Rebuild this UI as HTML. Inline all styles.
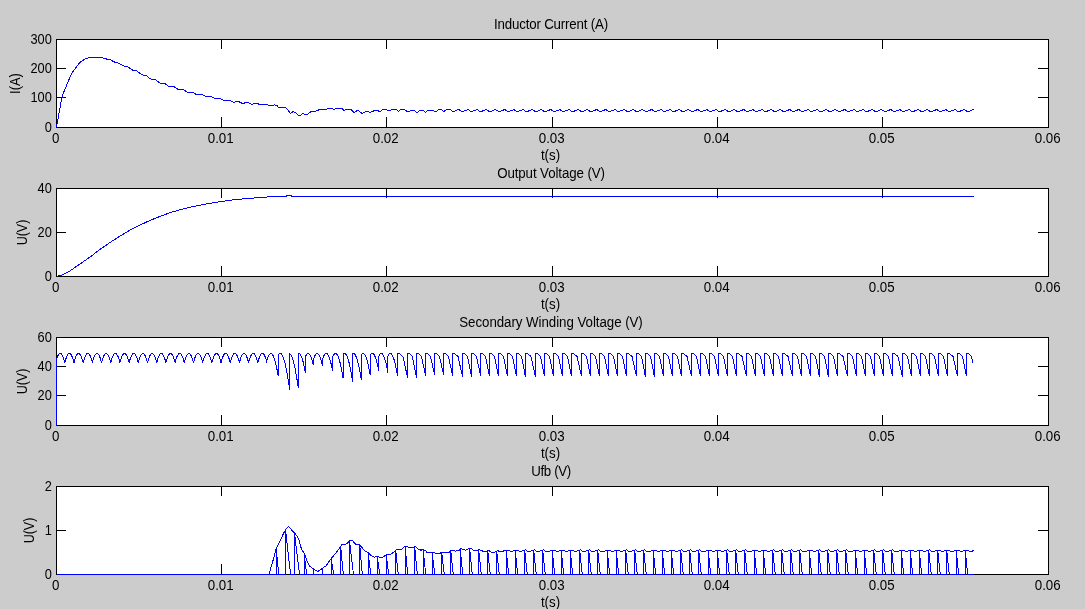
<!DOCTYPE html>
<html><head><meta charset="utf-8"><title>Figure</title>
<style>html,body{margin:0;padding:0;background:#ccc;overflow:hidden}svg{display:block}text{font-family:"Liberation Sans",Arial,Helvetica,sans-serif;font-size:13.33px;fill:#000}.k{fill:#000;shape-rendering:crispEdges}.c{fill:none;stroke:#00f;stroke-width:1;shape-rendering:crispEdges;stroke-linejoin:bevel}</style>
</head><body>
<svg width="1085" height="609" viewBox="0 0 1085 609">
<rect x="0" y="0" width="1085" height="609" fill="#ccc"/>
<g>
<rect x="56" y="39" width="993" height="89" fill="#fff"/>
<path class="k" d="M56 39h993v1h-993zM56 127h993v1h-993zM56 39h1v89h-1zM1048 39h1v89h-1zM221 40h1v9h-1zM221 117h1v10h-1zM386 40h1v9h-1zM386 117h1v10h-1zM552 40h1v9h-1zM552 117h1v10h-1zM717 40h1v9h-1zM717 117h1v10h-1zM882 40h1v9h-1zM882 117h1v10h-1zM57 68h9v1h-9zM1038 68h10v1h-10zM57 97h9v1h-9zM1038 97h10v1h-10z"/>
<text transform="translate(55.7 142.8) scale(1 1.055)" text-anchor="middle">0</text>
<text transform="translate(220.7 142.8) scale(1 1.055)" text-anchor="middle">0.01</text>
<text transform="translate(385.7 142.8) scale(1 1.055)" text-anchor="middle">0.02</text>
<text transform="translate(551.7 142.8) scale(1 1.055)" text-anchor="middle">0.03</text>
<text transform="translate(716.7 142.8) scale(1 1.055)" text-anchor="middle">0.04</text>
<text transform="translate(881.7 142.8) scale(1 1.055)" text-anchor="middle">0.05</text>
<text transform="translate(1047.7 142.8) scale(1 1.055)" text-anchor="middle">0.06</text>
<text transform="translate(51.8 43.9) scale(0.96 1.055)" text-anchor="end">300</text>
<text transform="translate(51.8 72.9) scale(0.96 1.055)" text-anchor="end">200</text>
<text transform="translate(51.8 101.9) scale(0.96 1.055)" text-anchor="end">100</text>
<text transform="translate(51.8 131.9) scale(0.96 1.055)" text-anchor="end">0</text>
<text transform="translate(550.5 160) scale(1 1.055)" text-anchor="middle">t(s)</text>
<text transform="translate(551 29.4) scale(1 1.055)" text-anchor="middle" style="letter-spacing:-0.18px">Inductor Current (A)</text>
<text transform="translate(20 83.5) rotate(-90) scale(0.97 1.055)" text-anchor="middle">I(A)</text>
</g>
<path class="c" d="M56.5 127.2 L61.6 99 L62.9 94.1 L71.6 73.3 L79.9 62.5 L84.5 59.3 L89.8 57.3 L95 57.44 L95.5 57.45 L96 57.45 L96.5 57.43 L97 57.39 L97.5 57.34 L98 57.28 L98.5 57.22 L99 57.17 L99.5 57.13 L100 57.16 L100.5 57.28 L101 57.42 L101.5 57.59 L102 57.77 L102.5 57.96 L103 58.16 L103.5 58.34 L104 58.51 L104.5 58.67 L105 58.79 L105.5 58.89 L106 58.96 L106.5 59.01 L107 59.05 L107.5 59.09 L108 59.13 L108.5 59.19 L109 59.27 L109.5 59.38 L110 59.58 L110.5 59.84 L111 60.12 L111.5 60.43 L112 60.73 L112.5 61.03 L113 61.32 L113.5 61.58 L114 61.81 L114.5 62 L115 62.15 L115.5 62.28 L116 62.38 L116.5 62.48 L117 62.59 L117.5 62.71 L118 62.86 L118.5 63.05 L119 63.27 L119.5 63.54 L120 63.84 L120.5 64.16 L121 64.49 L121.5 64.83 L122 65.15 L122.5 65.43 L123 65.68 L123.5 65.89 L124 66.05 L124.5 66.17 L125 66.26 L125.5 66.34 L126 66.42 L126.5 66.51 L127 66.65 L127.5 66.84 L128 67.06 L128.5 67.34 L129 67.66 L129.5 68.02 L130 68.4 L130.5 68.78 L131 69.14 L131.5 69.48 L132 69.77 L132.5 70.01 L133 70.2 L133.5 70.34 L134 70.44 L134.5 70.51 L135 70.58 L135.5 70.65 L136 70.76 L136.5 70.92 L137 71.16 L137.5 71.44 L138 71.79 L138.5 72.17 L139 72.59 L139.5 73.02 L140 73.44 L140.5 73.83 L141 74.18 L141.5 74.47 L142 74.7 L142.5 74.86 L143 74.98 L143.5 75.06 L144 75.12 L144.5 75.19 L145 75.28 L145.5 75.41 L146 75.6 L146.5 75.86 L147 76.18 L147.5 76.56 L148 76.98 L148.5 77.42 L149 77.86 L149.5 78.27 L150 78.64 L150.5 78.95 L151 79.19 L151.5 79.35 L152 79.46 L152.5 79.52 L153 79.54 L153.5 79.52 L154 79.53 L154.5 79.58 L155 79.69 L155.5 79.88 L156 80.15 L156.5 80.48 L157 80.86 L157.5 81.27 L158 81.69 L158.5 82.09 L159 82.44 L159.5 82.73 L160 82.94 L160.5 83.09 L161 83.16 L161.5 83.18 L162 83.17 L162.5 83.14 L163 83.13 L163.5 83.15 L164 83.23 L164.5 83.38 L165 83.6 L165.5 83.9 L166 84.25 L166.5 84.65 L167 85.05 L167.5 85.45 L168 85.81 L168.5 86.11 L169 86.34 L169.5 86.5 L170 86.59 L170.5 86.61 L171 86.6 L171.5 86.56 L172 86.53 L172.5 86.54 L173 86.57 L173.5 86.65 L174 86.8 L174.5 87.03 L175 87.32 L175.5 87.65 L176 88.01 L176.5 88.37 L177 88.7 L177.5 88.98 L178 89.2 L178.5 89.34 L179 89.41 L179.5 89.41 L180 89.36 L180.5 89.29 L181 89.21 L181.5 89.17 L182 89.18 L182.5 89.25 L183 89.39 L183.5 89.61 L184 89.9 L184.5 90.24 L185 90.61 L185.5 90.99 L186 91.35 L186.5 91.68 L187 91.94 L187.5 92.13 L188 92.25 L188.5 92.29 L189 92.28 L189.5 92.23 L190 92.17 L190.5 92.12 L191 92.11 L191.5 92.1 L192 92.17 L192.5 92.31 L193 92.52 L193.5 92.79 L194 93.1 L194.5 93.43 L195 93.75 L195.5 94.04 L196 94.27 L196.5 94.44 L197 94.53 L197.5 94.55 L198 94.51 L198.5 94.42 L199 94.31 L199.5 94.2 L200 94.12 L200.5 94.1 L201 94.13 L201.5 94.24 L202 94.43 L202.5 94.68 L203 94.98 L203.5 95.31 L204 95.64 L204.5 95.94 L205 96.2 L205.5 96.4 L206 96.52 L206.5 96.57 L207 96.55 L207.5 96.48 L208 96.37 L208.5 96.26 L209 96.17 L209.5 96.12 L210 96.14 L210.5 96.23 L211 96.39 L211.5 96.63 L212 96.92 L212.5 97.24 L213 97.58 L213.5 97.91 L214 98.19 L214.5 98.42 L215 98.58 L215.5 98.66 L216 98.67 L216.5 98.62 L217 98.54 L217.5 98.43 L218 98.34 L218.5 98.28 L219 98.27 L219.5 98.33 L220 98.45 L220.5 98.64 L221 98.89 L221.5 99.18 L222 99.5 L222.5 99.81 L223 100.09 L223.5 100.32 L224 100.49 L224.5 100.58 L225 100.6 L225.5 100.55 L226 100.45 L226.5 100.33 L227 100.21 L227.5 100.11 L228 100.06 L228.5 100.08 L229 100.16 L229.5 100.32 L230 100.55 L230.5 100.81 L231 101.09 L231.5 101.38 L232 101.66 L232.5 101.88 L233 102.05 L233.5 102.14 L234 102.16 L234.5 102.11 L235 102.01 L235.5 101.87 L236 101.72 L236.5 101.58 L237 101.49 L237.5 101.45 L238 101.48 L238.5 101.59 L239 101.77 L239.5 102.01 L240 102.28 L240.5 102.55 L241 102.81 L241.5 103.04 L242 103.21 L242.5 103.31 L243 103.34 L243.5 103.29 L244 103.18 L244.5 103.03 L245 102.86 L245.5 102.7 L246 102.56 L246.5 102.48 L247 102.47 L247.5 102.52 L248 102.66 L248.5 102.85 L249 103.1 L249.5 103.37 L250 103.63 L250.5 103.86 L251 104.05 L251.5 104.17 L252 104.21 L252.5 104.18 L253 104.09 L253.5 103.94 L254 103.77 L254.5 103.59 L255 103.43 L255.5 103.32 L256 103.26 L256.5 103.29 L257 103.38 L257.5 103.55 L258 103.76 L258.5 104.02 L259 104.28 L259.5 104.52 L260 104.73 L260.5 104.89 L261 104.97 L261.5 104.98 L262 104.92 L262.5 104.8 L263 104.64 L263.5 104.47 L264 104.31 L264.5 104.19 L265 104.12 L265.5 104.12 L266 104.2 L266.5 104.35 L267 104.56 L267.5 104.81 L268 105.08 L268.5 105.34 L269 105.57 L269.5 105.75 L270 105.86 L270.5 105.88 L271 105.83 L271.5 105.71 L272 105.55 L272.5 105.37 L273 105.18 L273.5 105.03 L274 104.92 L274.5 104.88 L275 104.91 L275.5 105.02 L276 105.19 L276.5 105.41 L277 105.66 L277.2 105.7 L278.9 108.2 L280.6 107.3 L285.5 107.3 L288 110.2 L290.5 113.5 L293 111.5 L295.5 112.8 L298.8 115.6 L300.5 115.3 L302.9 113.5 L304.6 114.5 L307.1 114.5 L310.4 112 L316.2 111.1 L319.5 109.5 L326.2 109.2 L328.7 108.3 L331.2 108.3 L333.6 109.5 L336.1 108.5 L341.9 108.5 L344.1 110.7 L346.1 109.3 L351.1 109.3 L354 112.6 L357.7 110.3 L362.3 113.6 L366 111.5 L367.6 111.5 L370.1 112.6 L375.1 110.3 L377.6 110.7 L380 111.5 L381.5 110.5 L383 109.5 L386.6 109.5 L387.4 110.5 L390.7 110.5 L391.2 109.5 L396.6 109.5 L397.4 110.5 L398.4 111.5 L399.5 110.5 L401 109.5 L404.7 109.5 L405.6 110.5 L407.3 111.5 L409.5 111.5 L410.2 110.5 L414.3 110.5 L415.4 111.5 L416.5 112.4 L417.6 112.4 L418.7 111.5 L419.8 110.5 L423.5 110.5 L424.3 111.5 L425.4 112.4 L426.5 111.5 L428 110.5 L433.5 110.5 L434.6 111.5 L436.4 111.5 L437.5 110.5 L439 109.5 L441.6 109.5 L442.3 110.5 L443.8 111.5 L445.3 110.5 L446.7 109.5 L450.4 109.5 L451.5 110.5 L452.6 111.5 L454.5 111.5 L456 110.5 L457.4 109.6 L458.56 109.4 L459.51 110 L460.91 111 L462.06 111.7 L464.21 111 L466.8 110 L467.75 109.4 L468.7 110 L470.1 111 L471.25 111.7 L473.4 111 L475.99 110 L476.94 109.4 L477.89 110 L479.29 111 L480.44 111.7 L482.59 111 L485.18 110 L486.13 109.4 L487.08 110 L488.48 111 L489.63 111.7 L491.78 111 L494.37 110 L495.32 109.4 L496.27 110 L497.67 111 L498.82 111.7 L500.97 111 L503.56 110 L504.51 109.4 L505.46 110 L506.86 111 L508.01 111.7 L510.16 111 L512.75 110 L513.7 109.4 L514.65 110 L516.05 111 L517.2 111.7 L519.35 111 L521.94 110 L522.89 109.4 L523.84 110 L525.24 111 L526.39 111.7 L528.54 111 L531.13 110 L532.08 109.4 L533.03 110 L534.43 111 L535.58 111.7 L537.73 111 L540.32 110 L541.27 109.4 L542.22 110 L543.62 111 L544.77 111.7 L546.92 111 L549.51 110 L550.46 109.4 L551.41 110 L552.81 111 L553.96 111.7 L556.11 111 L558.7 110 L559.65 109.4 L560.6 110 L562 111 L563.15 111.7 L565.3 111 L567.89 110 L568.84 109.4 L569.79 110 L571.19 111 L572.34 111.7 L574.49 111 L577.08 110 L578.03 109.4 L578.98 110 L580.38 111 L581.53 111.7 L583.68 111 L586.27 110 L587.22 109.4 L588.17 110 L589.57 111 L590.72 111.7 L592.87 111 L595.46 110 L596.41 109.4 L597.36 110 L598.76 111 L599.91 111.7 L602.06 111 L604.65 110 L605.6 109.4 L606.55 110 L607.95 111 L609.1 111.7 L611.25 111 L613.84 110 L614.79 109.4 L615.74 110 L617.14 111 L618.29 111.7 L620.44 111 L623.03 110 L623.98 109.4 L624.93 110 L626.33 111 L627.48 111.7 L629.63 111 L632.22 110 L633.17 109.4 L634.12 110 L635.52 111 L636.67 111.7 L638.82 111 L641.41 110 L642.36 109.4 L643.31 110 L644.71 111 L645.86 111.7 L648.01 111 L650.6 110 L651.55 109.4 L652.5 110 L653.9 111 L655.05 111.7 L657.2 111 L659.79 110 L660.74 109.4 L661.69 110 L663.09 111 L664.24 111.7 L666.39 111 L668.98 110 L669.93 109.4 L670.88 110 L672.28 111 L673.43 111.7 L675.58 111 L678.17 110 L679.12 109.4 L680.07 110 L681.47 111 L682.62 111.7 L684.77 111 L687.36 110 L688.31 109.4 L689.26 110 L690.66 111 L691.81 111.7 L693.96 111 L696.55 110 L697.5 109.4 L698.45 110 L699.85 111 L701 111.7 L703.15 111 L705.74 110 L706.69 109.4 L707.64 110 L709.04 111 L710.19 111.7 L712.34 111 L714.93 110 L715.88 109.4 L716.83 110 L718.23 111 L719.38 111.7 L721.53 111 L724.12 110 L725.07 109.4 L726.02 110 L727.42 111 L728.57 111.7 L730.72 111 L733.31 110 L734.26 109.4 L735.21 110 L736.61 111 L737.76 111.7 L739.91 111 L742.5 110 L743.45 109.4 L744.4 110 L745.8 111 L746.95 111.7 L749.1 111 L751.69 110 L752.64 109.4 L753.59 110 L754.99 111 L756.14 111.7 L758.29 111 L760.88 110 L761.83 109.4 L762.78 110 L764.18 111 L765.33 111.7 L767.48 111 L770.07 110 L771.02 109.4 L771.97 110 L773.37 111 L774.52 111.7 L776.67 111 L779.26 110 L780.21 109.4 L781.16 110 L782.56 111 L783.71 111.7 L785.86 111 L788.45 110 L789.4 109.4 L790.35 110 L791.75 111 L792.9 111.7 L795.05 111 L797.64 110 L798.59 109.4 L799.54 110 L800.94 111 L802.09 111.7 L804.24 111 L806.83 110 L807.78 109.4 L808.73 110 L810.13 111 L811.28 111.7 L813.43 111 L816.02 110 L816.97 109.4 L817.92 110 L819.32 111 L820.47 111.7 L822.62 111 L825.21 110 L826.16 109.4 L827.11 110 L828.51 111 L829.66 111.7 L831.81 111 L834.4 110 L835.35 109.4 L836.3 110 L837.7 111 L838.85 111.7 L841 111 L843.59 110 L844.54 109.4 L845.49 110 L846.89 111 L848.04 111.7 L850.19 111 L852.78 110 L853.73 109.4 L854.68 110 L856.08 111 L857.23 111.7 L859.38 111 L861.97 110 L862.92 109.4 L863.87 110 L865.27 111 L866.42 111.7 L868.57 111 L871.16 110 L872.11 109.4 L873.06 110 L874.46 111 L875.61 111.7 L877.76 111 L880.35 110 L881.3 109.4 L882.25 110 L883.65 111 L884.8 111.7 L886.95 111 L889.54 110 L890.49 109.4 L891.44 110 L892.84 111 L893.99 111.7 L896.14 111 L898.73 110 L899.68 109.4 L900.63 110 L902.03 111 L903.18 111.7 L905.33 111 L907.92 110 L908.87 109.4 L909.82 110 L911.22 111 L912.37 111.7 L914.52 111 L917.11 110 L918.06 109.4 L919.01 110 L920.41 111 L921.56 111.7 L923.71 111 L926.3 110 L927.25 109.4 L928.2 110 L929.6 111 L930.75 111.7 L932.9 111 L935.49 110 L936.44 109.4 L937.39 110 L938.79 111 L939.94 111.7 L942.09 111 L944.68 110 L945.63 109.4 L946.58 110 L947.98 111 L949.13 111.7 L951.28 111 L953.87 110 L954.82 109.4 L955.77 110 L957.17 111 L958.32 111.7 L960.47 111 L963.06 110 L964.01 109.4 L964.96 110 L966.36 111 L967.51 111.7 L969.66 111 L972.25 110 L973.2 109.4 L974 109.5"/>
<g>
<rect x="56" y="188" width="993" height="89" fill="#fff"/>
<path class="k" d="M56 188h993v1h-993zM56 276h993v1h-993zM56 188h1v89h-1zM1048 188h1v89h-1zM221 189h1v9h-1zM221 266h1v10h-1zM386 189h1v9h-1zM386 266h1v10h-1zM552 189h1v9h-1zM552 266h1v10h-1zM717 189h1v9h-1zM717 266h1v10h-1zM882 189h1v9h-1zM882 266h1v10h-1zM57 232h9v1h-9zM1038 232h10v1h-10z"/>
<text transform="translate(55.7 291.8) scale(1 1.055)" text-anchor="middle">0</text>
<text transform="translate(220.7 291.8) scale(1 1.055)" text-anchor="middle">0.01</text>
<text transform="translate(385.7 291.8) scale(1 1.055)" text-anchor="middle">0.02</text>
<text transform="translate(551.7 291.8) scale(1 1.055)" text-anchor="middle">0.03</text>
<text transform="translate(716.7 291.8) scale(1 1.055)" text-anchor="middle">0.04</text>
<text transform="translate(881.7 291.8) scale(1 1.055)" text-anchor="middle">0.05</text>
<text transform="translate(1047.7 291.8) scale(1 1.055)" text-anchor="middle">0.06</text>
<text transform="translate(51.8 192.9) scale(0.96 1.055)" text-anchor="end">40</text>
<text transform="translate(51.8 236.9) scale(0.96 1.055)" text-anchor="end">20</text>
<text transform="translate(51.8 280.9) scale(0.96 1.055)" text-anchor="end">0</text>
<text transform="translate(550.5 309) scale(1 1.055)" text-anchor="middle">t(s)</text>
<text transform="translate(551 178.4) scale(1 1.055)" text-anchor="middle" style="letter-spacing:-0.1px">Output Voltage (V)</text>
<text transform="translate(27 232.5) rotate(-90) scale(0.94 1.055)" text-anchor="middle">U(V)</text>
</g>
<path class="c" d="M56.5 276.2 L61.2 275.4 L69.9 270.9 L79.9 264.1 L89.8 257.2 L99.8 249.6 L109.7 242.7 L119.7 236.3 L129.6 230.3 L139.6 225.3 L149.5 220.6 L159.5 216.6 L169.4 212.9 L179.4 209.9 L189.4 207.4 L199.3 205.4 L209.3 203.4 L221.7 201.4 L234.1 199.8 L242.5 199 L254 198 L267 197 L280 196.55 L286 196.5 L286.5 195.5 L291 195.5 L291.5 196.5 L974 196.5"/>
<g>
<rect x="56" y="337" width="993" height="89" fill="#fff"/>
<path class="k" d="M56 337h993v1h-993zM56 425h993v1h-993zM56 337h1v89h-1zM1048 337h1v89h-1zM221 338h1v9h-1zM221 415h1v10h-1zM386 338h1v9h-1zM386 415h1v10h-1zM552 338h1v9h-1zM552 415h1v10h-1zM717 338h1v9h-1zM717 415h1v10h-1zM882 338h1v9h-1zM882 415h1v10h-1zM57 366h9v1h-9zM1038 366h10v1h-10zM57 395h9v1h-9zM1038 395h10v1h-10z"/>
<text transform="translate(55.7 440.8) scale(1 1.055)" text-anchor="middle">0</text>
<text transform="translate(220.7 440.8) scale(1 1.055)" text-anchor="middle">0.01</text>
<text transform="translate(385.7 440.8) scale(1 1.055)" text-anchor="middle">0.02</text>
<text transform="translate(551.7 440.8) scale(1 1.055)" text-anchor="middle">0.03</text>
<text transform="translate(716.7 440.8) scale(1 1.055)" text-anchor="middle">0.04</text>
<text transform="translate(881.7 440.8) scale(1 1.055)" text-anchor="middle">0.05</text>
<text transform="translate(1047.7 440.8) scale(1 1.055)" text-anchor="middle">0.06</text>
<text transform="translate(51.8 341.9) scale(0.96 1.055)" text-anchor="end">60</text>
<text transform="translate(51.8 370.9) scale(0.96 1.055)" text-anchor="end">40</text>
<text transform="translate(51.8 399.9) scale(0.96 1.055)" text-anchor="end">20</text>
<text transform="translate(51.8 429.9) scale(0.96 1.055)" text-anchor="end">0</text>
<text transform="translate(550.5 458) scale(1 1.055)" text-anchor="middle">t(s)</text>
<text transform="translate(551 327.4) scale(1 1.055)" text-anchor="middle" style="letter-spacing:-0.055px">Secondary Winding Voltage (V)</text>
<text transform="translate(27 381.5) rotate(-90) scale(0.94 1.055)" text-anchor="middle">U(V)</text>
</g>
<path class="c" d="M56.5 425.5 L56.5 358.5 L57.14 357.54 L57.91 355.74 L58.67 354.44 L59.44 353.66 L60.2 353.4 L60.97 353.66 L61.74 354.44 L62.5 355.74 L63.27 357.54 L64.03 359.83 L64.8 362.6 L64.8 362.6 L65.57 359.83 L66.33 357.54 L67.1 355.74 L67.86 354.44 L68.63 353.66 L69.39 353.4 L70.16 353.66 L70.93 354.44 L71.69 355.74 L72.46 357.54 L73.22 359.83 L73.99 362.6 L73.99 362.6 L74.76 359.83 L75.52 357.54 L76.29 355.74 L77.05 354.44 L77.82 353.66 L78.58 353.4 L79.35 353.66 L80.12 354.44 L80.88 355.74 L81.65 357.54 L82.41 359.83 L83.18 362.6 L83.18 362.6 L83.95 359.83 L84.71 357.54 L85.48 355.74 L86.24 354.44 L87.01 353.66 L87.78 353.4 L88.54 353.66 L89.31 354.44 L90.07 355.74 L90.84 357.54 L91.6 359.83 L92.37 362.6 L92.37 362.6 L93.14 359.83 L93.9 357.54 L94.67 355.74 L95.43 354.44 L96.2 353.66 L96.97 353.4 L97.73 353.66 L98.5 354.44 L99.26 355.74 L100.03 357.54 L100.79 359.83 L101.56 362.6 L101.56 362.6 L102.33 359.83 L103.09 357.54 L103.86 355.74 L104.62 354.44 L105.39 353.66 L106.16 353.4 L106.92 353.66 L107.69 354.44 L108.45 355.74 L109.22 357.54 L109.98 359.83 L110.75 362.6 L110.75 362.6 L111.52 359.83 L112.28 357.54 L113.05 355.74 L113.81 354.44 L114.58 353.66 L115.34 353.4 L116.11 353.66 L116.88 354.44 L117.64 355.74 L118.41 357.54 L119.17 359.83 L119.94 362.6 L119.94 362.6 L120.71 359.83 L121.47 357.54 L122.24 355.74 L123 354.44 L123.77 353.66 L124.53 353.4 L125.3 353.66 L126.07 354.44 L126.83 355.74 L127.6 357.54 L128.36 359.83 L129.13 362.6 L129.13 362.6 L129.9 359.83 L130.66 357.54 L131.43 355.74 L132.19 354.44 L132.96 353.66 L133.72 353.4 L134.49 353.66 L135.26 354.44 L136.02 355.74 L136.79 357.54 L137.55 359.83 L138.32 362.6 L138.32 362.6 L139.09 359.83 L139.85 357.54 L140.62 355.74 L141.38 354.44 L142.15 353.66 L142.91 353.4 L143.68 353.66 L144.45 354.44 L145.21 355.74 L145.98 357.54 L146.74 359.83 L147.51 362.6 L147.51 362.6 L148.28 359.83 L149.04 357.54 L149.81 355.74 L150.57 354.44 L151.34 353.66 L152.1 353.4 L152.87 353.66 L153.64 354.44 L154.4 355.74 L155.17 357.54 L155.93 359.83 L156.7 362.6 L156.7 362.6 L157.47 359.83 L158.23 357.54 L159 355.74 L159.76 354.44 L160.53 353.66 L161.29 353.4 L162.06 353.66 L162.83 354.44 L163.59 355.74 L164.36 357.54 L165.12 359.83 L165.89 362.6 L165.89 362.6 L166.66 359.83 L167.42 357.54 L168.19 355.74 L168.95 354.44 L169.72 353.66 L170.48 353.4 L171.25 353.66 L172.02 354.44 L172.78 355.74 L173.55 357.54 L174.31 359.83 L175.08 362.6 L175.08 362.6 L175.85 359.83 L176.61 357.54 L177.38 355.74 L178.14 354.44 L178.91 353.66 L179.67 353.4 L180.44 353.66 L181.21 354.44 L181.97 355.74 L182.74 357.54 L183.5 359.83 L184.27 362.6 L184.27 362.6 L185.04 359.83 L185.8 357.54 L186.57 355.74 L187.33 354.44 L188.1 353.66 L188.86 353.4 L189.63 353.66 L190.4 354.44 L191.16 355.74 L191.93 357.54 L192.69 359.83 L193.46 362.6 L193.46 362.6 L194.23 359.83 L194.99 357.54 L195.76 355.74 L196.52 354.44 L197.29 353.66 L198.05 353.4 L198.82 353.66 L199.59 354.44 L200.35 355.74 L201.12 357.54 L201.88 359.83 L202.65 362.6 L202.65 362.6 L203.42 359.83 L204.18 357.54 L204.95 355.74 L205.71 354.44 L206.48 353.66 L207.24 353.4 L208.01 353.66 L208.78 354.44 L209.54 355.74 L210.31 357.54 L211.07 359.83 L211.84 362.6 L211.84 362.6 L212.61 359.83 L213.37 357.54 L214.14 355.74 L214.9 354.44 L215.67 353.66 L216.43 353.4 L217.2 353.66 L217.97 354.44 L218.73 355.74 L219.5 357.54 L220.26 359.83 L221.03 362.6 L221.03 362.6 L221.8 359.83 L222.56 357.54 L223.33 355.74 L224.09 354.44 L224.86 353.66 L225.62 353.4 L226.39 353.66 L227.16 354.44 L227.92 355.74 L228.69 357.54 L229.45 359.83 L230.22 362.6 L230.22 362.6 L230.99 359.83 L231.75 357.54 L232.52 355.74 L233.28 354.44 L234.05 353.66 L234.81 353.4 L235.58 353.66 L236.35 354.44 L237.11 355.74 L237.88 357.54 L238.64 359.83 L239.41 362.6 L239.41 362.6 L240.18 359.83 L240.94 357.54 L241.71 355.74 L242.47 354.44 L243.24 353.66 L244 353.4 L244.77 353.66 L245.54 354.44 L246.3 355.74 L247.07 357.54 L247.83 359.83 L248.6 362.6 L248.6 362.6 L249.37 359.83 L250.13 357.54 L250.9 355.74 L251.66 354.44 L252.43 353.66 L253.19 353.4 L253.96 353.66 L254.73 354.44 L255.49 355.74 L256.26 357.54 L257.02 359.83 L257.79 362.6 L257.79 362.6 L258.56 359.83 L259.32 357.54 L260.09 355.74 L260.85 354.44 L261.62 353.66 L262.38 353.4 L263.15 353.66 L263.92 354.44 L264.68 355.74 L265.45 357.54 L266.21 359.83 L266.98 362.6 L267 360.2 L267.32 359.09 L267.65 358.08 L267.99 357.17 L268.33 356.35 L268.66 355.63 L269 355.01 L269.34 354.49 L269.68 354.07 L270.01 353.75 L270.35 353.53 L270.69 353.42 L271.02 353.41 L271.36 353.5 L271.7 353.69 L272.03 353.98 L272.37 354.38 L272.71 354.88 L273.05 355.47 L273.38 356.17 L273.72 356.96 L274.06 357.85 L274.39 358.84 L274.73 359.92 L275.07 361.09 L275.4 362.36 L275.74 363.71 L276.08 365.15 L276.42 366.68 L276.75 368.29 L277.09 369.98 L277.43 371.74 L277.76 373.59 L278.1 375.5 L278.12 355.47 L278.44 354.87 L278.78 354.37 L279.12 353.97 L279.46 353.68 L279.81 353.49 L280.15 353.4 L280.49 353.43 L280.83 353.55 L281.17 353.78 L281.51 354.12 L281.85 354.56 L282.19 355.1 L282.54 355.74 L282.88 356.49 L283.22 357.33 L283.56 358.28 L283.9 359.32 L284.24 360.46 L284.58 361.69 L284.92 363.01 L285.26 364.43 L285.61 365.93 L285.95 367.52 L286.29 369.19 L286.63 370.95 L286.97 372.78 L287.31 374.69 L287.65 376.67 L287.99 378.72 L288.34 380.83 L288.68 383.01 L289.02 385.25 L289.36 387.55 L289.7 389.9 L289.72 353.54 L290.04 353.77 L290.39 354.1 L290.73 354.54 L291.08 355.08 L291.42 355.73 L291.76 356.48 L292.11 357.33 L292.45 358.29 L292.8 359.34 L293.14 360.49 L293.48 361.73 L293.83 363.07 L294.17 364.5 L294.52 366.02 L294.86 367.63 L295.2 369.32 L295.55 371.1 L295.89 372.95 L296.24 374.88 L296.58 376.89 L296.92 378.96 L297.27 381.1 L297.61 383.31 L297.96 385.58 L298.3 387.9 L298.32 353.48 L298.64 353.4 L298.98 353.43 L299.31 353.55 L299.65 353.78 L299.99 354.11 L300.33 354.55 L300.67 355.08 L301 355.72 L301.34 356.45 L301.68 357.29 L302.02 358.22 L302.36 359.24 L302.7 360.37 L303.03 361.58 L303.37 362.88 L303.71 364.28 L304.05 365.76 L304.39 367.32 L304.72 368.97 L305.06 370.7 L305.4 372.5 L305.42 356.71 L305.74 355.94 L306.08 355.27 L306.42 354.7 L306.76 354.24 L307.1 353.87 L307.43 353.61 L307.77 353.45 L308.11 353.4 L308.45 353.45 L308.79 353.6 L309.13 353.86 L309.47 354.22 L309.81 354.68 L310.15 355.24 L310.49 355.91 L310.83 356.67 L311.17 357.53 L311.5 358.49 L311.84 359.55 L312.18 360.7 L312.52 361.94 L312.86 363.28 L313.2 364.7 L313.22 360.28 L313.54 359.15 L313.88 358.13 L314.22 357.2 L314.56 356.37 L314.9 355.64 L315.24 355.01 L315.59 354.49 L315.93 354.06 L316.27 353.74 L316.61 353.53 L316.95 353.42 L317.29 353.41 L317.63 353.51 L317.97 353.71 L318.31 354.02 L318.65 354.43 L318.99 354.94 L319.33 355.56 L319.67 356.27 L320.01 357.09 L320.36 358.01 L320.7 359.02 L321.04 360.13 L321.38 361.34 L321.72 362.64 L322.06 364.02 L322.4 365.5 L322.42 359.82 L322.74 358.75 L323.07 357.77 L323.41 356.89 L323.75 356.11 L324.08 355.42 L324.42 354.83 L324.76 354.34 L325.09 353.96 L325.43 353.67 L325.77 353.49 L326.1 353.4 L326.44 353.42 L326.78 353.55 L327.11 353.77 L327.45 354.1 L327.79 354.52 L328.12 355.05 L328.46 355.68 L328.8 356.4 L329.13 357.23 L329.47 358.15 L329.81 359.16 L330.14 360.27 L330.48 361.47 L330.82 362.76 L331.15 364.14 L331.49 365.61 L331.83 367.16 L332.16 368.79 L332.5 370.5 L332.52 357.34 L332.84 356.5 L333.18 355.75 L333.53 355.1 L333.87 354.56 L334.21 354.12 L334.55 353.78 L334.89 353.55 L335.24 353.43 L335.58 353.4 L335.92 353.49 L336.26 353.68 L336.6 353.97 L336.95 354.37 L337.29 354.88 L337.63 355.48 L337.97 356.19 L338.31 357 L338.65 357.91 L339 358.92 L339.34 360.02 L339.68 361.22 L340.02 362.52 L340.36 363.9 L340.71 365.38 L341.05 366.94 L341.39 368.59 L341.73 370.32 L342.07 372.12 L342.42 374.01 L342.76 375.97 L343.1 378 L343.12 354.23 L343.44 353.87 L343.79 353.61 L344.13 353.45 L344.47 353.4 L344.81 353.46 L345.16 353.62 L345.5 353.89 L345.84 354.26 L346.19 354.74 L346.53 355.32 L346.87 356 L347.21 356.79 L347.56 357.67 L347.9 358.66 L348.24 359.74 L348.59 360.92 L348.93 362.2 L349.27 363.57 L349.61 365.02 L349.96 366.57 L350.3 368.2 L350.64 369.92 L350.99 371.71 L351.33 373.58 L351.67 375.53 L352.01 377.55 L352.36 379.64 L352.7 381.8 L352.72 353.63 L353.04 353.46 L353.39 353.4 L353.73 353.45 L354.08 353.6 L354.42 353.86 L354.76 354.22 L355.11 354.69 L355.45 355.27 L355.8 355.95 L356.14 356.73 L356.48 357.61 L356.83 358.59 L357.17 359.67 L357.52 360.85 L357.86 362.13 L358.2 363.49 L358.55 364.95 L358.89 366.5 L359.24 368.13 L359.58 369.85 L359.92 371.65 L360.27 373.53 L360.61 375.48 L360.96 377.5 L361.3 379.6 L361.32 354.78 L361.64 354.3 L361.98 353.92 L362.32 353.64 L362.65 353.47 L362.99 353.4 L363.33 353.43 L363.67 353.57 L364.01 353.81 L364.35 354.15 L364.68 354.6 L365.02 355.14 L365.36 355.79 L365.7 356.53 L366.04 357.38 L366.38 358.32 L366.72 359.36 L367.05 360.49 L367.39 361.71 L367.73 363.03 L368.07 364.43 L368.41 365.92 L368.75 367.5 L369.08 369.16 L369.42 370.9 L369.76 372.71 L370.1 374.6 L370.12 355.67 L370.43 355.05 L370.77 354.53 L371.1 354.1 L371.44 353.78 L371.77 353.55 L372.11 353.43 L372.44 353.4 L372.78 353.48 L373.11 353.66 L373.45 353.94 L373.78 354.32 L374.12 354.79 L374.45 355.37 L374.78 356.05 L375.12 356.82 L375.45 357.69 L375.79 358.65 L376.12 359.71 L376.46 360.85 L376.79 362.09 L377.13 363.42 L377.46 364.83 L377.8 366.33 L378.13 367.91 L378.47 369.56 L378.8 371.3 L378.82 356.04 L379.14 355.36 L379.47 354.78 L379.81 354.3 L380.15 353.93 L380.49 353.65 L380.82 353.47 L381.16 353.4 L381.5 353.43 L381.83 353.56 L382.17 353.8 L382.51 354.13 L382.84 354.57 L383.18 355.11 L383.52 355.75 L383.86 356.48 L384.19 357.32 L384.53 358.25 L384.87 359.27 L385.2 360.39 L385.54 361.61 L385.88 362.91 L386.21 364.3 L386.55 365.78 L386.89 367.34 L387.23 368.98 L387.56 370.7 L387.9 372.5 L387.92 355.97 L388.24 355.29 L388.59 354.71 L388.93 354.24 L389.27 353.87 L389.61 353.61 L389.96 353.45 L390.3 353.4 L390.64 353.45 L390.99 353.61 L391.33 353.88 L391.67 354.25 L392.01 354.73 L392.36 355.31 L392.7 355.99 L393.04 356.77 L393.39 357.66 L393.73 358.64 L394.07 359.72 L394.41 360.9 L394.76 362.18 L395.1 363.54 L395.44 365 L395.79 366.54 L396.13 368.17 L396.47 369.89 L396.81 371.68 L397.16 373.55 L397.5 375.5 L397.5 353.4 L399.4 353.4 L403 356.65 L405.7 369.06 L407.5 377.5 L407.5 353.4 L409.21 353.4 L412.45 356.65 L414.88 369.06 L416.5 377.5 L416.5 353.4 L418.21 353.4 L421.45 356.38 L423.88 367.76 L425.5 375.5 L425.5 353.4 L427.21 353.4 L430.45 356.26 L432.88 367.18 L434.5 374.6 L434.5 353.4 L436.21 353.4 L439.45 356.26 L441.88 367.18 L443.5 374.6 L443.5 353.4 L445.21 353.4 L448.45 356.38 L450.88 367.76 L452.5 375.5 L452.5 353.4 L454.4 353.4 L458 356.53 L460.7 368.48 L462.5 376.6 L462.5 353.4 L464.21 353.4 L467.45 356.53 L469.88 368.48 L471.5 376.6 L471.5 353.4 L473.21 353.4 L476.45 356.38 L478.88 367.76 L480.5 375.5 L480.5 353.4 L482.21 353.4 L485.45 356.5 L487.88 368.35 L489.5 376.4 L489.5 353.4 L491.21 353.4 L494.45 356.5 L496.88 368.35 L498.5 376.4 L498.5 353.4 L500.21 353.4 L503.45 356.5 L505.88 368.35 L507.5 376.4 L507.5 353.4 L509.21 353.4 L512.45 356.5 L514.88 368.35 L516.5 376.4 L516.5 353.4 L518.21 353.4 L521.45 356.59 L523.88 368.74 L525.5 377 L525.5 353.4 L527.4 353.4 L531 356.59 L533.7 368.74 L535.5 377 L535.5 353.4 L537.21 353.4 L540.45 356.5 L542.88 368.35 L544.5 376.4 L544.5 353.4 L546.21 353.4 L549.45 356.5 L551.88 368.35 L553.5 376.4 L553.5 353.4 L555.21 353.4 L558.45 356.5 L560.88 368.35 L562.5 376.4 L562.5 353.4 L564.21 353.4 L567.45 356.5 L569.88 368.35 L571.5 376.4 L571.5 353.4 L573.4 353.4 L577 356.5 L579.7 368.35 L581.5 376.4 L581.5 353.4 L583.21 353.4 L586.45 356.5 L588.88 368.35 L590.5 376.4 L590.5 353.4 L592.21 353.4 L595.45 356.5 L597.88 368.35 L599.5 376.4 L599.5 353.4 L601.21 353.4 L604.45 356.5 L606.88 368.35 L608.5 376.4 L608.5 353.4 L610.21 353.4 L613.45 356.5 L615.88 368.35 L617.5 376.4 L617.5 353.4 L619.21 353.4 L622.45 356.5 L624.88 368.35 L626.5 376.4 L626.5 353.4 L628.4 353.4 L632 356.5 L634.7 368.35 L636.5 376.4 L636.5 353.4 L638.21 353.4 L641.45 356.59 L643.88 368.74 L645.5 377 L645.5 353.4 L647.21 353.4 L650.45 356.59 L652.88 368.74 L654.5 377 L654.5 353.4 L656.21 353.4 L659.45 356.5 L661.88 368.35 L663.5 376.4 L663.5 353.4 L665.21 353.4 L668.45 356.5 L670.88 368.35 L672.5 376.4 L672.5 353.4 L674.21 353.4 L677.45 356.5 L679.88 368.35 L681.5 376.4 L681.5 353.4 L683.4 353.4 L687 356.5 L689.7 368.35 L691.5 376.4 L691.5 353.4 L693.21 353.4 L696.45 356.5 L698.88 368.35 L700.5 376.4 L700.5 353.4 L702.21 353.4 L705.45 356.5 L707.88 368.35 L709.5 376.4 L709.5 353.4 L711.21 353.4 L714.45 356.5 L716.88 368.35 L718.5 376.4 L718.5 353.4 L720.21 353.4 L723.45 356.5 L725.88 368.35 L727.5 376.4 L727.5 353.4 L729.21 353.4 L732.45 356.5 L734.88 368.35 L736.5 376.4 L736.5 353.4 L738.4 353.4 L742 356.5 L744.7 368.35 L746.5 376.4 L746.5 353.4 L748.21 353.4 L751.45 356.5 L753.88 368.35 L755.5 376.4 L755.5 353.4 L757.21 353.4 L760.45 356.5 L762.88 368.35 L764.5 376.4 L764.5 353.4 L766.21 353.4 L769.45 356.5 L771.88 368.35 L773.5 376.4 L773.5 353.4 L775.21 353.4 L778.45 356.5 L780.88 368.35 L782.5 376.4 L782.5 353.4 L784.4 353.4 L788 356.5 L790.7 368.35 L792.5 376.4 L792.5 353.4 L794.21 353.4 L797.45 356.5 L799.88 368.35 L801.5 376.4 L801.5 353.4 L803.21 353.4 L806.45 356.5 L808.88 368.35 L810.5 376.4 L810.5 353.4 L812.21 353.4 L815.45 356.59 L817.88 368.74 L819.5 377 L819.5 353.4 L821.21 353.4 L824.45 356.59 L826.88 368.74 L828.5 377 L828.5 353.4 L830.21 353.4 L833.45 356.5 L835.88 368.35 L837.5 376.4 L837.5 353.4 L839.4 353.4 L843 356.5 L845.7 368.35 L847.5 376.4 L847.5 353.4 L849.21 353.4 L852.45 356.5 L854.88 368.35 L856.5 376.4 L856.5 353.4 L858.21 353.4 L861.45 356.5 L863.88 368.35 L865.5 376.4 L865.5 353.4 L867.21 353.4 L870.45 356.5 L872.88 368.35 L874.5 376.4 L874.5 353.4 L876.21 353.4 L879.45 356.5 L881.88 368.35 L883.5 376.4 L883.5 353.4 L885.21 353.4 L888.45 356.5 L890.88 368.35 L892.5 376.4 L892.5 353.4 L894.4 353.4 L898 356.59 L900.7 368.74 L902.5 377 L902.5 353.4 L904.21 353.4 L907.45 356.5 L909.88 368.35 L911.5 376.4 L911.5 353.4 L913.21 353.4 L916.45 356.5 L918.88 368.35 L920.5 376.4 L920.5 353.4 L922.21 353.4 L925.45 356.5 L927.88 368.35 L929.5 376.4 L929.5 353.4 L931.21 353.4 L934.45 356.5 L936.88 368.35 L938.5 376.4 L938.5 353.4 L940.21 353.4 L943.45 356.5 L945.88 368.35 L947.5 376.4 L947.5 353.4 L949.4 353.4 L953 356.5 L955.7 368.35 L957.5 376.4 L957.5 353.4 L959.21 353.4 L962.45 356.5 L964.88 368.35 L966.5 376.4 L966.5 353.4 L968.25 353.4 L971.55 356.5 L972.9 363"/>
<g>
<rect x="56" y="486" width="993" height="89" fill="#fff"/>
<path class="k" d="M56 486h993v1h-993zM56 574h993v1h-993zM56 486h1v89h-1zM1048 486h1v89h-1zM221 487h1v9h-1zM221 564h1v10h-1zM386 487h1v9h-1zM386 564h1v10h-1zM552 487h1v9h-1zM552 564h1v10h-1zM717 487h1v9h-1zM717 564h1v10h-1zM882 487h1v9h-1zM882 564h1v10h-1zM57 530h9v1h-9zM1038 530h10v1h-10z"/>
<text transform="translate(55.7 589.8) scale(1 1.055)" text-anchor="middle">0</text>
<text transform="translate(220.7 589.8) scale(1 1.055)" text-anchor="middle">0.01</text>
<text transform="translate(385.7 589.8) scale(1 1.055)" text-anchor="middle">0.02</text>
<text transform="translate(551.7 589.8) scale(1 1.055)" text-anchor="middle">0.03</text>
<text transform="translate(716.7 589.8) scale(1 1.055)" text-anchor="middle">0.04</text>
<text transform="translate(881.7 589.8) scale(1 1.055)" text-anchor="middle">0.05</text>
<text transform="translate(1047.7 589.8) scale(1 1.055)" text-anchor="middle">0.06</text>
<text transform="translate(51.8 490.9) scale(0.96 1.055)" text-anchor="end">2</text>
<text transform="translate(51.8 534.9) scale(0.96 1.055)" text-anchor="end">1</text>
<text transform="translate(51.8 578.9) scale(0.96 1.055)" text-anchor="end">0</text>
<text transform="translate(550.5 607) scale(1 1.055)" text-anchor="middle">t(s)</text>
<text transform="translate(551 476.4) scale(1 1.055)" text-anchor="middle" style="letter-spacing:-0.37px">Ufb (V)</text>
<text transform="translate(34 530.5) rotate(-90) scale(0.94 1.055)" text-anchor="middle">U(V)</text>
</g>
<path class="c" d="M56.5 574.5 L269.1 574.5 L270.5 568.6 L273.4 559.3 L276.4 548.1 L280.4 540.1 L284.1 532.2 L286.5 528.4 L288.5 526.5 L291.1 529.4 L294.4 533.1 L296.3 535 L299.1 540.1 L301.4 549 L304.7 554.1 L307 561.2 L309.4 565.8 L312.2 568.2 L315.5 570.5 L317.8 571.4 L320.1 570 L322.5 568.2 L326.2 565.8 L328.5 562.1 L331.4 558.4 L336 552.7 L339 549 L340 546.8 L342.2 544.5 L345.5 544.5 L347.4 543.1 L349.2 541.3 L350.3 540.4 L352.5 540.4 L354 542.4 L355.9 544.5 L359.5 544.5 L361.4 546.8 L363.6 549.7 L365.8 551.4 L368.4 552.7 L371 555.3 L372.8 556.5 L374.7 557.2 L376.1 556.5 L378.3 556.5 L379.8 557.2 L382.4 557.2 L384.2 556.4 L386.5 554.5 L390.5 554.5 L392.7 553 L394.9 550.9 L396.4 549.5 L401.2 549.5 L402.7 548.3 L404.5 546.5 L407.5 546.5 L408.6 547.5 L413.7 547.5 L414.5 546.5 L415.2 546.5 L416.7 547.5 L418.2 549.5 L420 549.5 L421 550.5 L421.9 549.6 L423.3 549.6 L424 550.5 L425.6 550.5 L427 552.4 L434.7 552.4 L435.2 553.5 L440 553.5 L440.5 552.4 L449.1 552.4 L450.2 550.5 L454.7 550.5 L455.4 551.6 L456.2 550.5 L459.1 550.5 L460.2 548.4 L461.7 548.4 L462.5 549.4 L464.3 549.4 L465.4 550.5 L466.5 549.4 L467.9 549.4 L468.4 548.4 L471.6 548.4 L472.7 549.5 L473.5 550.5 L478.3 550.5 L478.6 549.6 L479.8 549.6 L480.5 550.5 L482 550.5 L482.4 551.5 L487.1 551.5 L487.5 550.5 L489 550.5 L489.4 551.5 L490.8 551.5 L491.2 552.4 L494.9 552.4 L495.3 551.5 L496.7 551.5 L497.1 550.5 L498.2 550.5 L498.6 551.5 L503.5 551.5 L503.9 550.5 L509.9 550.5 L510.3 551.5 L512.8 551.5 L513.2 550.5 L518.9 550.5 L519.3 551.5 L521.8 551.5 L522.2 550.5 L524.9 550.5 L525.1 549.5 L525.9 549.5 L526.1 550.5 L526.9 550.5 L527.3 551.5 L530.8 551.5 L531.2 550.5 L533.9 550.5 L534.1 549.5 L534.9 549.5 L535.1 550.5 L535.9 550.5 L536.3 551.5 L539.8 551.5 L540.2 550.5 L542.9 550.5 L543.1 549.5 L543.9 549.5 L544.1 550.5 L544.9 550.5 L545.3 551.5 L549.8 551.5 L550.2 550.5 L555.9 550.5 L556.3 551.5 L558.8 551.5 L559.2 550.5 L564.9 550.5 L565.3 551.5 L567.8 551.5 L568.2 550.5 L573.9 550.5 L574.3 551.5 L576.8 551.5 L577.2 550.5 L579.9 550.5 L580.1 549.5 L580.9 549.5 L581.1 550.5 L581.9 550.5 L582.3 551.5 L585.8 551.5 L586.2 550.5 L588.9 550.5 L589.1 549.5 L589.9 549.5 L590.1 550.5 L590.9 550.5 L591.3 551.5 L594.8 551.5 L595.2 550.5 L597.9 550.5 L598.1 549.5 L598.9 549.5 L599.1 550.5 L599.9 550.5 L600.3 551.5 L604.8 551.5 L605.2 550.5 L610.9 550.5 L611.3 551.5 L613.8 551.5 L614.2 550.5 L619.9 550.5 L620.3 551.5 L622.8 551.5 L623.2 550.5 L625.9 550.5 L626.1 549.5 L626.9 549.5 L627.1 550.5 L627.9 550.5 L628.3 551.5 L631.8 551.5 L632.2 550.5 L634.9 550.5 L635.1 549.5 L635.9 549.5 L636.1 550.5 L636.9 550.5 L637.3 551.5 L640.8 551.5 L641.2 550.5 L643.9 550.5 L644.1 549.5 L644.9 549.5 L645.1 550.5 L645.9 550.5 L646.3 551.5 L650.8 551.5 L651.2 550.5 L656.9 550.5 L657.3 551.5 L659.8 551.5 L660.2 550.5 L665.9 550.5 L666.3 551.5 L668.8 551.5 L669.2 550.5 L674.9 550.5 L675.3 551.5 L677.8 551.5 L678.2 550.5 L680.9 550.5 L681.1 549.5 L681.9 549.5 L682.1 550.5 L682.9 550.5 L683.3 551.5 L686.8 551.5 L687.2 550.5 L689.9 550.5 L690.1 549.5 L690.9 549.5 L691.1 550.5 L691.9 550.5 L692.3 551.5 L695.8 551.5 L696.2 550.5 L698.9 550.5 L699.1 549.5 L699.9 549.5 L700.1 550.5 L700.9 550.5 L701.3 551.5 L705.8 551.5 L706.2 550.5 L711.9 550.5 L712.3 551.5 L714.8 551.5 L715.2 550.5 L720.9 550.5 L721.3 551.5 L723.8 551.5 L724.2 550.5 L726.9 550.5 L727.1 549.5 L727.9 549.5 L728.1 550.5 L728.9 550.5 L729.3 551.5 L732.8 551.5 L733.2 550.5 L735.9 550.5 L736.1 549.5 L736.9 549.5 L737.1 550.5 L737.9 550.5 L738.3 551.5 L741.8 551.5 L742.2 550.5 L744.9 550.5 L745.1 549.5 L745.9 549.5 L746.1 550.5 L746.9 550.5 L747.3 551.5 L751.8 551.5 L752.2 550.5 L757.9 550.5 L758.3 551.5 L760.8 551.5 L761.2 550.5 L766.9 550.5 L767.3 551.5 L769.8 551.5 L770.2 550.5 L772.9 550.5 L773.1 549.5 L773.9 549.5 L774.1 550.5 L774.9 550.5 L775.3 551.5 L778.8 551.5 L779.2 550.5 L781.9 550.5 L782.1 549.5 L782.9 549.5 L783.1 550.5 L783.9 550.5 L784.3 551.5 L787.8 551.5 L788.2 550.5 L790.9 550.5 L791.1 549.5 L791.9 549.5 L792.1 550.5 L792.9 550.5 L793.3 551.5 L796.8 551.5 L797.2 550.5 L799.9 550.5 L800.1 549.5 L800.9 549.5 L801.1 550.5 L801.9 550.5 L802.3 551.5 L806.8 551.5 L807.2 550.5 L812.9 550.5 L813.3 551.5 L815.8 551.5 L816.2 550.5 L818.9 550.5 L819.1 549.5 L819.9 549.5 L820.1 550.5 L820.9 550.5 L821.3 551.5 L824.8 551.5 L825.2 550.5 L827.9 550.5 L828.1 549.5 L828.9 549.5 L829.1 550.5 L829.9 550.5 L830.3 551.5 L833.8 551.5 L834.2 550.5 L836.9 550.5 L837.1 549.5 L837.9 549.5 L838.1 550.5 L838.9 550.5 L839.3 551.5 L842.8 551.5 L843.2 550.5 L845.9 550.5 L846.1 549.5 L846.9 549.5 L847.1 550.5 L847.9 550.5 L848.3 551.5 L852.8 551.5 L853.2 550.5 L858.9 550.5 L859.3 551.5 L861.8 551.5 L862.2 550.5 L867.9 550.5 L868.3 551.5 L870.8 551.5 L871.2 550.5 L873.9 550.5 L874.1 549.5 L874.9 549.5 L875.1 550.5 L875.9 550.5 L876.3 551.5 L879.8 551.5 L880.2 550.5 L882.9 550.5 L883.1 549.5 L883.9 549.5 L884.1 550.5 L884.9 550.5 L885.3 551.5 L888.8 551.5 L889.2 550.5 L891.9 550.5 L892.1 549.5 L892.9 549.5 L893.1 550.5 L893.9 550.5 L894.3 551.5 L898.8 551.5 L899.2 550.5 L904.9 550.5 L905.3 551.5 L907.8 551.5 L908.2 550.5 L913.9 550.5 L914.3 551.5 L916.8 551.5 L917.2 550.5 L922.9 550.5 L923.3 551.5 L925.8 551.5 L926.2 550.5 L928.9 550.5 L929.1 549.5 L929.9 549.5 L930.1 550.5 L930.9 550.5 L931.3 551.5 L934.8 551.5 L935.2 550.5 L940.9 550.5 L941.3 551.5 L943.8 551.5 L944.2 550.5 L949.9 550.5 L950.3 551.5 L953.8 551.5 L954.2 550.5 L959.9 550.5 L960.3 551.5 L962.8 551.5 L963.2 550.5 L968.9 550.5 L969.3 551.5 L972.2 551.5 L972.8 550.5 L974 550.5"/>
<path class="c" d="M269 574.5 L974 574.5"/>
<path class="c" d="M276.5 574.5 L276.5 547.9 M276.15 547.9 L278.75 574.5 M285.5 574.5 L285.5 529.98 M285.5 529.98 L290.6 574.5 M294.5 574.5 L294.5 533.2 M294.5 533.2 L299.6 574.5 M304.5 574.5 L304.5 553.79 M304.15 553.79 L306.75 574.5 M313.5 574.5 L313.5 569.11 M322.5 574.5 L322.5 568.2 M331.5 574.5 L331.5 558.28 M331.15 558.28 L333.75 574.5 M340.5 574.5 L340.5 546.28 M340.7 546.28 L343.3 574.5 M349.5 574.5 L349.5 541.05 M349.5 541.05 L353.5 574.5 M359.5 574.5 L359.5 544.5 M359.7 544.5 L362.3 574.5 M368.5 574.5 L368.5 552.8 M368.15 552.8 L370.75 574.5 M377.5 574.5 L377.5 556.5 M377.15 556.5 L379.75 574.5 M386.5 574.5 L386.5 554.5 M386.15 554.5 L388.75 574.5 M395.5 574.5 L395.5 550.34 M395.7 550.34 L398.3 574.5 M405.5 574.5 L405.5 546.5 M405.15 546.5 L407.75 574.5 M414.5 574.5 L414.5 546.5 M414.7 546.5 L417.3 574.5 M423.5 574.5 L423.5 549.86 M423.15 549.86 L425.75 574.5 M432.5 574.5 L432.5 552.4 M432.15 552.4 L434.75 574.5 M441.5 574.5 L441.5 552.4 M441.7 552.4 L444.3 574.5 M450.5 574.5 L450.5 550.5 M450.7 550.5 L453.3 574.5 M460.5 574.5 L460.5 548.4 M460.15 548.4 L462.75 574.5 M469.5 574.5 L469.5 548.4 M469.7 548.4 L472.3 574.5 M478.5 574.5 L478.5 549.9 M478.7 549.9 L481.3 574.5 M487.5 574.5 L487.5 550.5 M487.7 550.5 L490.3 574.5 M496.5 574.5 L496.5 551.5 M496.7 551.5 L499.3 574.5 M506.5 574.5 L506.5 550.5 M506.15 550.5 L508.75 574.5 M515.5 574.5 L515.5 550.5 M515.15 550.5 L517.75 574.5 M524.5 574.5 L524.5 550.5 M524.7 550.5 L527.3 574.5 M533.5 574.5 L533.5 550.5 M533.7 550.5 L536.3 574.5 M542.5 574.5 L542.5 550.5 M542.7 550.5 L545.3 574.5 M552.5 574.5 L552.5 550.5 M552.15 550.5 L554.75 574.5 M561.5 574.5 L561.5 550.5 M561.15 550.5 L563.75 574.5 M570.5 574.5 L570.5 550.5 M570.15 550.5 L572.75 574.5 M579.5 574.5 L579.5 550.5 M579.7 550.5 L582.3 574.5 M588.5 574.5 L588.5 550.5 M588.7 550.5 L591.3 574.5 M597.5 574.5 L597.5 550.5 M597.7 550.5 L600.3 574.5 M607.5 574.5 L607.5 550.5 M607.15 550.5 L609.75 574.5 M616.5 574.5 L616.5 550.5 M616.15 550.5 L618.75 574.5 M625.5 574.5 L625.5 550.5 M625.7 550.5 L628.3 574.5 M634.5 574.5 L634.5 550.5 M634.7 550.5 L637.3 574.5 M643.5 574.5 L643.5 550.5 M643.7 550.5 L646.3 574.5 M653.5 574.5 L653.5 550.5 M653.15 550.5 L655.75 574.5 M662.5 574.5 L662.5 550.5 M662.15 550.5 L664.75 574.5 M671.5 574.5 L671.5 550.5 M671.15 550.5 L673.75 574.5 M680.5 574.5 L680.5 550.5 M680.7 550.5 L683.3 574.5 M689.5 574.5 L689.5 550.5 M689.7 550.5 L692.3 574.5 M698.5 574.5 L698.5 550.5 M698.7 550.5 L701.3 574.5 M708.5 574.5 L708.5 550.5 M708.15 550.5 L710.75 574.5 M717.5 574.5 L717.5 550.5 M717.15 550.5 L719.75 574.5 M726.5 574.5 L726.5 550.5 M726.7 550.5 L729.3 574.5 M735.5 574.5 L735.5 550.5 M735.7 550.5 L738.3 574.5 M744.5 574.5 L744.5 550.5 M744.7 550.5 L747.3 574.5 M754.5 574.5 L754.5 550.5 M754.15 550.5 L756.75 574.5 M763.5 574.5 L763.5 550.5 M763.15 550.5 L765.75 574.5 M772.5 574.5 L772.5 550.5 M772.7 550.5 L775.3 574.5 M781.5 574.5 L781.5 550.5 M781.7 550.5 L784.3 574.5 M790.5 574.5 L790.5 550.5 M790.7 550.5 L793.3 574.5 M799.5 574.5 L799.5 550.5 M799.7 550.5 L802.3 574.5 M809.5 574.5 L809.5 550.5 M809.15 550.5 L811.75 574.5 M818.5 574.5 L818.5 550.5 M818.7 550.5 L821.3 574.5 M827.5 574.5 L827.5 550.5 M827.7 550.5 L830.3 574.5 M836.5 574.5 L836.5 550.5 M836.7 550.5 L839.3 574.5 M845.5 574.5 L845.5 550.5 M845.7 550.5 L848.3 574.5 M855.5 574.5 L855.5 550.5 M855.15 550.5 L857.75 574.5 M864.5 574.5 L864.5 550.5 M864.15 550.5 L866.75 574.5 M873.5 574.5 L873.5 550.5 M873.7 550.5 L876.3 574.5 M882.5 574.5 L882.5 550.5 M882.7 550.5 L885.3 574.5 M891.5 574.5 L891.5 550.5 M891.7 550.5 L894.3 574.5 M901.5 574.5 L901.5 550.5 M901.15 550.5 L903.75 574.5 M910.5 574.5 L910.5 550.5 M910.15 550.5 L912.75 574.5 M919.5 574.5 L919.5 550.5 M919.15 550.5 L921.75 574.5 M928.5 574.5 L928.5 550.5 M928.7 550.5 L931.3 574.5 M937.5 574.5 L937.5 550.5 M937.7 550.5 L940.3 574.5 M946.5 574.5 L946.5 550.5 M946.7 550.5 L949.3 574.5 M956.5 574.5 L956.5 550.5 M956.15 550.5 L958.75 574.5 M965.5 574.5 L965.5 550.5 M965.15 550.5 L967.75 574.5"/>
<path class="k" d="M277 574h1v1h-1zM286 574h4v1h-4zM295 574h4v1h-4zM305 574h1v1h-1zM332 574h1v1h-1zM341 574h2v1h-2zM350 574h3v1h-3zM360 574h2v1h-2zM369 574h1v1h-1zM378 574h1v1h-1zM387 574h1v1h-1zM396 574h2v1h-2zM406 574h1v1h-1zM415 574h2v1h-2zM424 574h1v1h-1zM433 574h1v1h-1zM442 574h2v1h-2zM451 574h2v1h-2zM461 574h1v1h-1zM470 574h2v1h-2zM479 574h2v1h-2zM488 574h2v1h-2zM497 574h2v1h-2zM507 574h1v1h-1zM516 574h1v1h-1zM525 574h2v1h-2zM534 574h2v1h-2zM543 574h2v1h-2zM553 574h1v1h-1zM562 574h1v1h-1zM571 574h1v1h-1zM580 574h2v1h-2zM589 574h2v1h-2zM598 574h2v1h-2zM608 574h1v1h-1zM617 574h1v1h-1zM626 574h2v1h-2zM635 574h2v1h-2zM644 574h2v1h-2zM654 574h1v1h-1zM663 574h1v1h-1zM672 574h1v1h-1zM681 574h2v1h-2zM690 574h2v1h-2zM699 574h2v1h-2zM709 574h1v1h-1zM718 574h1v1h-1zM727 574h2v1h-2zM736 574h2v1h-2zM745 574h2v1h-2zM755 574h1v1h-1zM764 574h1v1h-1zM773 574h2v1h-2zM782 574h2v1h-2zM791 574h2v1h-2zM800 574h2v1h-2zM810 574h1v1h-1zM819 574h2v1h-2zM828 574h2v1h-2zM837 574h2v1h-2zM846 574h2v1h-2zM856 574h1v1h-1zM865 574h1v1h-1zM874 574h2v1h-2zM883 574h2v1h-2zM892 574h2v1h-2zM902 574h1v1h-1zM911 574h1v1h-1zM920 574h1v1h-1zM929 574h2v1h-2zM938 574h2v1h-2zM947 574h2v1h-2zM957 574h1v1h-1zM966 574h1v1h-1z"/>
</svg>
</body></html>
